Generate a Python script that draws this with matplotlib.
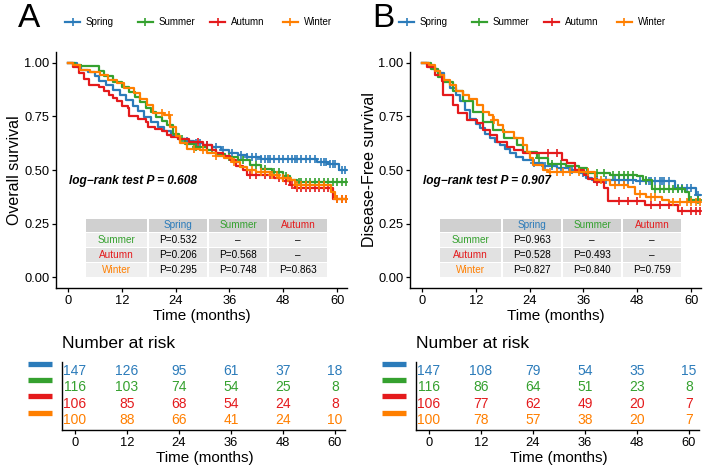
import bisect
import matplotlib
matplotlib.use('Agg')
import matplotlib.pyplot as plt
from matplotlib.patches import Rectangle
from matplotlib.lines import Line2D
import matplotlib.transforms as mtransforms

plt.rcParams['font.family'] = ['Liberation Sans', 'DejaVu Sans']

W, H = 708, 473

groups = ['Spring', 'Summer', 'Autumn', 'Winter']
colors = ['#2B7BBA', '#35A12F', '#E41A1C', '#FF7F00']
time_ticks = [0, 12, 24, 36, 48, 60]
surv_ticks = [0.00, 0.25, 0.50, 0.75, 1.00]

# ---------------- Panel A: overall survival ----------------
a_spring_t = [0, 2, 3, 4.5, 6, 7, 8.5, 10, 11.5, 13, 14.5, 15.5, 17, 18.5, 20, 21.5, 23, 24.5, 26, 28, 30, 32, 34, 36, 38, 40, 43, 55.5, 58, 60.5]
a_spring_s = [1.0, 0.98, 0.966, 0.955, 0.94, 0.915, 0.895, 0.875, 0.85, 0.826, 0.80, 0.775, 0.748, 0.725, 0.70, 0.68, 0.66, 0.645, 0.635, 0.625, 0.617, 0.607, 0.593, 0.577, 0.568, 0.561, 0.553, 0.538, 0.53, 0.50]
a_spring_c = [26.5, 28.5, 29.5, 31, 33, 34.5, 36.5, 38.5, 40, 41, 42, 43, 44, 44.5, 45, 46, 47, 48, 49, 50, 50.5, 51, 52, 53, 54, 55, 56.5, 57, 57.5, 58.5, 59, 59.5, 61, 61.8]

a_summer_t = [0, 1.5, 3, 7, 8, 10, 12, 13.5, 15, 16, 17.4, 18.5, 19.6, 21, 22, 23.3, 24.8, 26, 28, 31, 33, 35, 38, 40.5, 43, 45.5, 48, 49.5, 51]
a_summer_s = [1.0, 0.99, 0.983, 0.96, 0.94, 0.91, 0.885, 0.865, 0.84, 0.818, 0.787, 0.77, 0.748, 0.73, 0.71, 0.67, 0.645, 0.62, 0.605, 0.595, 0.575, 0.56, 0.545, 0.523, 0.505, 0.49, 0.47, 0.453, 0.445]
a_summer_c = [25.5, 28.5, 32, 36, 39, 42, 44, 46, 47, 48.5, 51.5, 52, 53, 54, 55, 56, 57, 58, 59, 60, 61, 62]

a_autumn_t = [0, 1, 2.5, 3.5, 4.75, 7, 8, 9.2, 10, 11, 12, 13.3, 13.7, 15.5, 17.4, 17.8, 19.5, 21, 22, 23, 24.5, 27, 30, 32, 33, 34.5, 36.1, 37.5, 39, 40, 46, 48, 49.5, 50.5, 59]
a_autumn_s = [1.0, 0.98, 0.95, 0.925, 0.896, 0.888, 0.87, 0.85, 0.835, 0.82, 0.80, 0.79, 0.75, 0.74, 0.725, 0.70, 0.69, 0.68, 0.665, 0.655, 0.645, 0.632, 0.615, 0.595, 0.58, 0.565, 0.546, 0.52, 0.50, 0.476, 0.465, 0.45, 0.43, 0.414, 0.367]
a_autumn_c = [29, 31, 40.5, 42, 44, 45, 47, 48.5, 50, 51, 52, 53, 54, 55, 56, 57, 58, 60, 61, 62]

a_winter_t = [0, 1, 2.7, 5, 7.1, 9, 10.9, 12.5, 14.6, 16, 17.6, 19, 21.3, 22.8, 24, 25, 26.5, 29.4, 31, 33, 34.7, 36.5, 38.4, 40, 42, 45.1, 47, 49.5, 50.5, 58.6, 59.5]
a_winter_s = [1.0, 0.99, 0.966, 0.955, 0.943, 0.92, 0.904, 0.88, 0.857, 0.83, 0.803, 0.764, 0.756, 0.701, 0.66, 0.624, 0.60, 0.593, 0.58, 0.565, 0.554, 0.535, 0.515, 0.50, 0.49, 0.476, 0.465, 0.453, 0.43, 0.398, 0.367]
a_winter_c = [21, 22.5, 28, 30, 33, 37, 41, 43, 44, 45.5, 46.5, 48, 49, 51, 52, 53, 54, 56, 57, 60, 61, 62]

a_pairs_rows = ['Summer', 'Autumn', 'Winter']
a_pairs_cols = ['Spring', 'Summer', 'Autumn']
a_pvals = [['P=0.532', '\u2013', '\u2013'],
           ['P=0.206', 'P=0.568', '\u2013'],
           ['P=0.295', 'P=0.748', 'P=0.863']]
a_logrank = 'log\u2212rank test P = 0.608'
a_risk = [[147, 126, 95, 61, 37, 18],
          [116, 103, 74, 54, 25, 8],
          [106, 85, 68, 54, 24, 8],
          [100, 88, 66, 41, 24, 10]]

# ---------------- Panel B: disease-free survival ----------------
b_spring_t = [0, 1.5, 3, 4, 5, 6.2, 7.5, 8.5, 9.5, 10.7, 12, 12.9, 14, 15.2, 16.3, 17.4, 18.5, 19.6, 21, 22.6, 24.8, 27, 30, 33, 35, 36.5, 38, 47.6, 56.4, 61]
b_spring_s = [1.0, 0.98, 0.96, 0.95, 0.915, 0.88, 0.85, 0.82, 0.78, 0.74, 0.715, 0.695, 0.67, 0.648, 0.63, 0.617, 0.598, 0.578, 0.56, 0.547, 0.531, 0.52, 0.51, 0.50, 0.485, 0.465, 0.455, 0.45, 0.414, 0.383]
b_spring_c = [25, 27.5, 29, 31, 33.5, 36, 39, 41, 43, 44, 45, 46, 47, 48.5, 50, 50.5, 51, 52, 53, 53.5, 54, 55, 57, 58, 59, 60, 61.5]

b_summer_t = [0, 2, 3.5, 4.7, 7, 9.2, 11.4, 13.7, 15.9, 18.2, 21.1, 22.6, 25.6, 28, 32, 35, 36.7, 42, 48, 49.3, 51.2, 58.7, 59.5]
b_summer_s = [1.0, 0.97, 0.935, 0.91, 0.866, 0.82, 0.772, 0.726, 0.687, 0.648, 0.617, 0.585, 0.555, 0.53, 0.52, 0.51, 0.485, 0.475, 0.47, 0.453, 0.41, 0.398, 0.36]
b_summer_c = [26, 29, 31, 34, 37, 39, 40.5, 42.5, 44, 45, 46, 47, 50, 52, 53, 54, 55, 56, 57, 58, 60, 61.5]

b_autumn_t = [0, 1, 2.9, 4.4, 4.75, 7, 8.1, 10, 12.2, 13.7, 15.2, 16.7, 18.9, 20.4, 22.6, 31.2, 32.4, 34, 36.1, 37, 38.4, 40.6, 41.5, 49.7, 57]
b_autumn_s = [1.0, 0.98, 0.944, 0.913, 0.85, 0.804, 0.765, 0.734, 0.718, 0.687, 0.664, 0.632, 0.609, 0.593, 0.578, 0.545, 0.531, 0.50, 0.477, 0.46, 0.445, 0.414, 0.355, 0.336, 0.31]
b_autumn_c = [28, 30, 39, 44, 46, 48, 51, 53, 55, 58, 60, 61, 62]

b_winter_t = [0, 1.5, 3, 4, 5, 6.2, 7.5, 9.2, 10.5, 12.2, 13.7, 15, 15.9, 17, 18.1, 20.4, 22.6, 23.3, 24, 24.8, 27, 28, 38.6, 42, 46, 47.5, 50, 53.5, 55]
b_winter_s = [1.0, 0.99, 0.96, 0.944, 0.92, 0.897, 0.87, 0.85, 0.83, 0.804, 0.772, 0.755, 0.734, 0.71, 0.679, 0.648, 0.617, 0.585, 0.555, 0.523, 0.50, 0.492, 0.453, 0.43, 0.42, 0.39, 0.375, 0.36, 0.352]
b_winter_c = [16, 28.5, 30, 31.5, 33, 35, 37, 40, 43, 45, 48.5, 51, 52, 56, 57.5, 59, 60, 61, 62]

b_pairs_rows = ['Summer', 'Autumn', 'Winter']
b_pairs_cols = ['Spring', 'Summer', 'Autumn']
b_pvals = [['P=0.963', '\u2013', '\u2013'],
           ['P=0.528', 'P=0.493', '\u2013'],
           ['P=0.827', 'P=0.840', 'P=0.759']]
b_logrank = 'log\u2212rank test P = 0.907'
b_risk = [[147, 108, 79, 54, 35, 15],
          [116, 86, 64, 51, 23, 8],
          [106, 77, 62, 49, 20, 7],
          [100, 78, 57, 38, 20, 7]]

col_of = dict(zip(groups, colors))

fig = plt.figure(figsize=(W / 100, H / 100), dpi=100)


def fx(px):
    return px / W


def fy(py):
    return 1 - py / H


def style_axes(ax):
    for s in ['top', 'right']:
        ax.spines[s].set_visible(False)
    for s in ['left', 'bottom']:
        ax.spines[s].set_linewidth(1.0)
        ax.spines[s].set_color('black')
    ax.tick_params(axis='both', length=3, width=0.9, colors='black',
                   labelsize=9.3, pad=1.8)
    ax.set_facecolor('none')


def draw_panel(off, loff, letter, ylabel, curves, pvals, rows, cols, logrank, risk):
    ax = fig.add_axes([fx(56 + off), fy(288), fx(291), 236 / H])
    style_axes(ax)
    ax.set_xlim(-2.68, 62.2)
    ax.set_ylim(-0.05, 1.05)
    ax.set_xticks(time_ticks)
    ax.set_yticks(surv_ticks)
    ax.set_yticklabels(['%.2f' % v for v in surv_ticks])
    end_t = 62.0
    for (t, s, c), col in zip(curves, colors):
        ax.step(list(t) + [end_t], list(s) + [s[-1]], where='post',
                color=col, lw=1.6, zorder=3)
        cy = [s[bisect.bisect_right(t, ci) - 1] for ci in c]
        ax.plot(c, cy, ls='none', marker='+', ms=6, mew=1.2, color=col, zorder=3)

    # titles / labels
    fig.text(fx(15 + off), fy(170), ylabel, rotation=90, ha='center', va='center',
             fontsize=11.5)
    fig.text(fx(202 + off), fy(316), 'Time (months)', ha='center', va='center',
             fontsize=11)
    fig.text(fx(18 + off), fy(27), letter, ha='left', va='baseline', fontsize=24)
    fig.text(fx(69 + off), fy(181), logrank, ha='left', va='center', fontsize=8.6,
             fontweight='bold', fontstyle='italic')

    # legend
    for i, (g, col) in enumerate(zip(groups, colors)):
        x0 = 65 + loff + 72.5 * i
        fig.add_artist(Line2D([fx(x0), fx(x0 + 15)], [fy(22), fy(22)],
                              transform=fig.transFigure, color=col, lw=1.6))
        fig.add_artist(Line2D([fx(x0 + 7.5)], [fy(22)], transform=fig.transFigure,
                              color=col, marker='+', ms=6, mew=1.2, ls='none'))
        fig.text(fx(x0 + 21), fy(22), g, ha='left', va='center', fontsize=7)

    # pairwise table
    xs = [85 + off, 148 + off, 208 + off, 268 + off, 328 + off]
    ys = [218, 232.5, 247.5, 262.5, 277.5]
    fills = ['#D0D0D0', '#EFEFEF', '#E1E1E1', '#EFEFEF']
    g = 0.7
    for r in range(4):
        for cidx in range(4):
            x0, x1 = xs[cidx] + g, xs[cidx + 1] - g
            y0, y1 = ys[r] + g, ys[r + 1] - g
            fig.add_artist(Rectangle((fx(x0), fy(y1)), fx(x1 - x0), (y1 - y0) / H,
                                     transform=fig.transFigure, facecolor=fills[r],
                                     edgecolor='none', zorder=5))
            cx = (xs[cidx] + xs[cidx + 1]) / 2
            cyy = (ys[r] + ys[r + 1]) / 2
            txt, tc = None, 'black'
            if r == 0 and cidx > 0:
                txt, tc = cols[cidx - 1], col_of[cols[cidx - 1]]
            elif r > 0 and cidx == 0:
                txt, tc = rows[r - 1], col_of[rows[r - 1]]
            elif r > 0:
                txt = pvals[r - 1][cidx - 1]
            if txt:
                fig.text(fx(cx), fy(cyy), txt, ha='center', va='center',
                         fontsize=7.2, color=tc, zorder=6)

    # risk table
    axr = fig.add_axes([fx(62 + off), fy(430), fx(283), 68 / H])
    style_axes(axr)
    axr.set_xlim(-3, 62.3)
    axr.set_ylim(0.39, 4.55)
    axr.set_xticks(time_ticks)
    axr.set_yticks([])
    for i, (row, col) in enumerate(zip(risk, colors)):
        yv = 4 - i
        for tt, n in zip(time_ticks, row):
            axr.text(tt, yv, str(n), color=col, ha='center', va='center', fontsize=10)
        trans = mtransforms.blended_transform_factory(fig.transFigure, axr.transData)
        axr.add_line(Line2D([fx(28 + off), fx(52 + off)], [yv + 0.45, yv + 0.45],
                            transform=trans, color=col, lw=3.8, clip_on=False,
                            solid_capstyle='butt'))
    fig.text(fx(62 + off), fy(343), 'Number at risk', ha='left', va='center',
             fontsize=12.5)
    fig.text(fx(205 + off), fy(458), 'Time (months)', ha='center', va='center',
             fontsize=11)


curves_a = [(a_spring_t, a_spring_s, a_spring_c), (a_summer_t, a_summer_s, a_summer_c),
            (a_autumn_t, a_autumn_s, a_autumn_c), (a_winter_t, a_winter_s, a_winter_c)]
curves_b = [(b_spring_t, b_spring_s, b_spring_c), (b_summer_t, b_summer_s, b_summer_c),
            (b_autumn_t, b_autumn_s, b_autumn_c), (b_winter_t, b_winter_s, b_winter_c)]

draw_panel(0, 0, 'A', 'Overall survival', curves_a, a_pvals, a_pairs_rows, a_pairs_cols,
           a_logrank, a_risk)
draw_panel(354, 334, 'B', 'Disease-Free survival', curves_b, b_pvals, b_pairs_rows,
           b_pairs_cols, b_logrank, b_risk)

fig.savefig('out.png', dpi=100)
